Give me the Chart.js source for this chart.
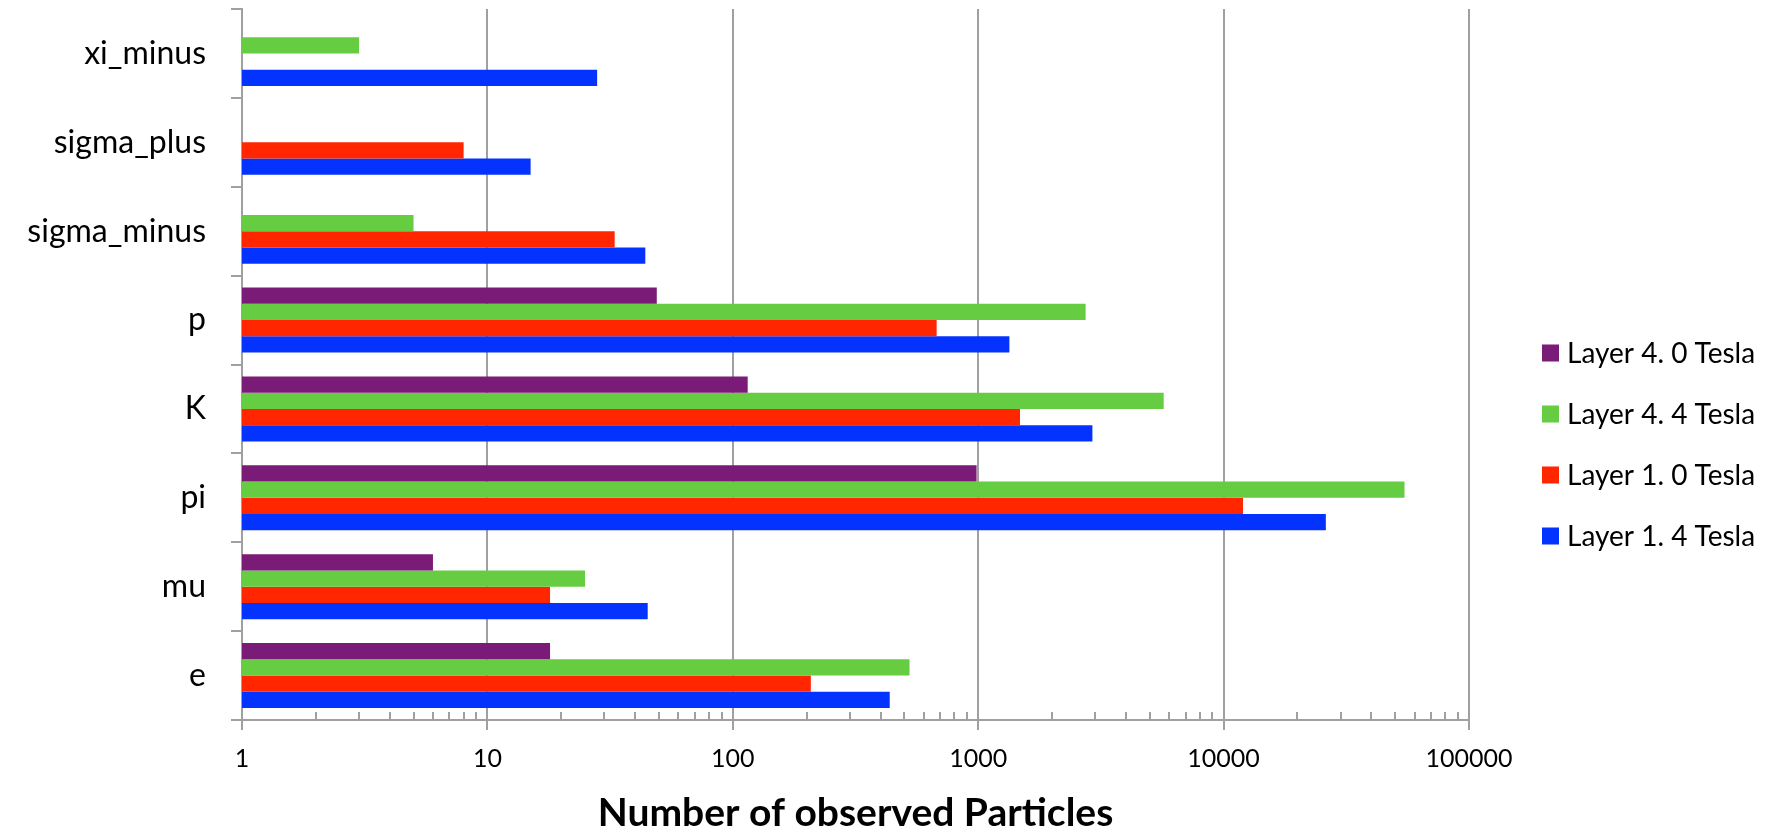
<!DOCTYPE html>
<html>
<head>
<meta charset="utf-8">
<title>Number of observed Particles</title>
<script src="https://cdn.jsdelivr.net/npm/chart.js@4/dist/chart.umd.min.js"></script>
<style>
  html, body { margin: 0; padding: 0; background: #ffffff; }
  #wrap { width: 1765px; height: 832px; }
</style>
</head>
<body>
<div id="wrap"><canvas id="chart" width="1765" height="832"></canvas></div>
<script>
// Particle species, listed top to bottom
const particles = ['xi_minus', 'sigma_plus', 'sigma_minus', 'p', 'K', 'pi', 'mu', 'e'];

// Counts per layer / field setting (null = none observed)
const layer40 = [null, null, null, 49, 115, 985, 6, 18];
const layer44 = [3, null, 5, 2740, 5700, 54600, 25, 525];
const layer10 = [null, 8, 33, 677, 1480, 12000, 18, 208];
const layer14 = [28, 15, 44, 1340, 2920, 26100, 45, 436];

const seriesNames = ['Layer 4. 0 Tesla', 'Layer 4. 4 Tesla', 'Layer 1. 0 Tesla', 'Layer 1. 4 Tesla'];
const seriesColors = ['#7A1B78', '#66CC42', '#FF2600', '#0433FF'];

// Labelled decades on the log axis
const decadeTicks = [1, 10, 100, 1000, 10000, 100000];

const GRID = '#A0A0A0';
const FONT = 'Lato';

// Small inward tick marks for 2..9 within each decade
const minorTicks = {
  id: 'minorTicks',
  afterDraw(chart) {
    const xs = chart.scales.x;
    const ctx = chart.ctx;
    const y0 = chart.chartArea.bottom;
    ctx.save();
    ctx.strokeStyle = GRID;
    ctx.lineWidth = 2;
    ctx.beginPath();
    for (let d = 1; d < decadeTicks[decadeTicks.length - 1]; d *= 10) {
      for (let m = 2; m <= 9; m++) {
        const x = Math.round(xs.getPixelForValue(m * d));
        ctx.moveTo(x, y0);
        ctx.lineTo(x, y0 - 8);
      }
    }
    ctx.stroke();
    ctx.restore();
  }
};

// Legend column on the right, same order as the bars in each group
const sideLegend = {
  id: 'sideLegend',
  afterDraw(chart) {
    const ctx = chart.ctx;
    ctx.save();
    ctx.font = '28px ' + FONT;
    ctx.textBaseline = 'middle';
    ctx.textAlign = 'left';
    chart.data.datasets.forEach((ds, i) => {
      const cy = 353 + i * 61;
      ctx.fillStyle = ds.backgroundColor;
      ctx.fillRect(1542, cy - 8.5, 17, 17);
      ctx.fillStyle = '#000000';
      ctx.fillText(ds.label, 1567, cy + 1);
    });
    ctx.restore();
  }
};

const seriesData = [layer40, layer44, layer10, layer14];

function build() {
  new Chart(document.getElementById('chart'), {
    type: 'bar',
    data: {
      labels: particles,
      datasets: seriesData.map((values, i) => ({
        label: seriesNames[i],
        data: values,
        backgroundColor: seriesColors[i],
        borderWidth: 0,
        categoryPercentage: 0.73,
        barPercentage: 1.0
      }))
    },
    options: {
      indexAxis: 'y',
      responsive: false,
      animation: false,
      layout: { padding: { top: 9, right: 296, left: 0, bottom: 0 } },
      plugins: {
        legend: { display: false },
        tooltip: { enabled: false }
      },
      scales: {
        x: {
          type: 'logarithmic',
          min: 1,
          max: 100000,
          afterBuildTicks: (s) => { s.ticks = decadeTicks.map(v => ({ value: v, major: true })); },
          afterFit: (s) => { s.height = 112; s.paddingLeft = 0; s.paddingRight = 0; },
          ticks: {
            autoSkip: false,
            maxRotation: 0,
            minRotation: 0,
            padding: 14,
            color: '#000000',
            font: { family: FONT, size: 25 },
            callback: (v) => String(v)
          },
          grid: {
            color: GRID,
            lineWidth: 2,
            drawTicks: true,
            tickLength: 10,
            tickColor: GRID
          },
          border: { display: true, color: GRID, width: 2 },
          title: {
            display: true,
            text: 'Number of observed Particles',
            color: '#000000',
            padding: 0,
            font: { family: FONT, size: 39, weight: 'bold', lineHeight: 0.95 }
          }
        },
        y: {
          afterFit: (s) => { s.width = 242; s.paddingTop = 0; s.paddingBottom = 0; },
          ticks: {
            padding: 25,
            color: '#000000',
            font: { family: FONT, size: 32 }
          },
          grid: {
            offset: true,
            drawOnChartArea: false,
            drawTicks: true,
            tickLength: 11,
            color: GRID,
            tickColor: GRID,
            lineWidth: 2
          },
          border: { display: true, color: GRID, width: 2 }
        }
      }
    },
    plugins: [minorTicks, sideLegend]
  });
}

Promise.all([
  document.fonts.load('32px ' + FONT),
  document.fonts.load('bold 39px ' + FONT)
]).then(build, build);
</script>
</body>
</html>
